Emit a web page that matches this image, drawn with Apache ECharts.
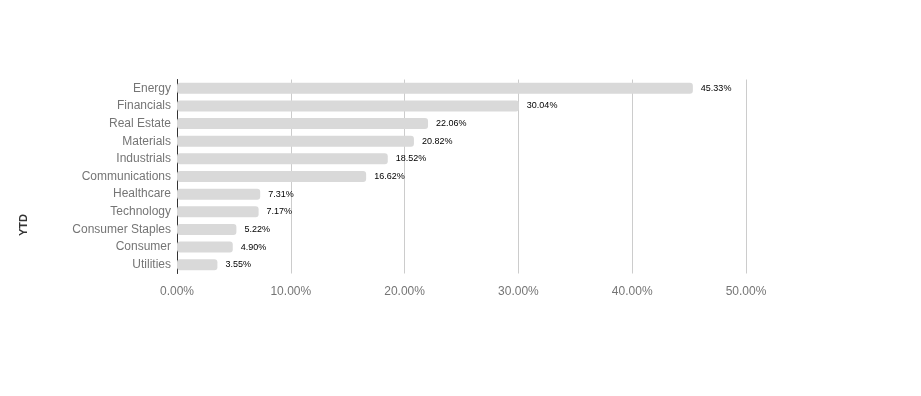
<!DOCTYPE html>
<html><head><meta charset="utf-8">
<script src="https://cdn.jsdelivr.net/npm/echarts@6/dist/echarts.min.js"></script>
<style>html,body{margin:0;padding:0;background:#fff}#c{width:921px;height:396px}</style>
</head><body><div id="c"></div>
<script>
const categories = ["Energy","Financials","Real Estate","Materials","Industrials","Communications","Healthcare","Technology","Consumer Staples","Consumer","Utilities"];
const values = [45.33,30.04,22.06,20.82,18.52,16.62,7.31,7.17,5.22,4.90,3.55];
const xTicks = [0,10,20,30,40,50];
const axisTitle = "YTD";

const chart = echarts.init(document.getElementById('c'), null, {renderer:'canvas'});
chart.setOption({
  animation:false,
  grid:{left:177, top:79.5, width:569, height:194, containLabel:false},
  xAxis:{
    type:'value', min:xTicks[0], max:xTicks[xTicks.length-1], interval:10,
    axisLine:{show:false}, axisTick:{show:false},
    splitLine:{lineStyle:{color:'#cccccc', width:1}},
    axisLabel:{color:'#757575', fontSize:12, fontFamily:'Liberation Sans, Arial', margin:12,
      formatter:v=>v.toFixed(2)+'%'}
  },
  yAxis:{
    type:'category', data:categories, inverse:true,
    axisLine:{show:true, lineStyle:{color:'#333333', width:1}},
    axisTick:{show:false},
    axisLabel:{color:'#757575', fontSize:12, fontFamily:'Liberation Sans, Arial', margin:6}
  },
  graphic:[{type:'text', left:18, top:214, rotation:Math.PI/2,
    style:{text:axisTitle, fill:'#333333', font:'bold 11px Liberation Sans, Arial'}}],
  series:[{
    type:'bar', data:values, barWidth:11,
    itemStyle:{color:'#d9d9d9', borderRadius:3},
    label:{show:true, position:'right', distance:8, color:'#000', fontSize:9,
      fontFamily:'Liberation Sans, Arial', formatter:p=>p.value.toFixed(2)+'%'}
  }]
});
</script></body></html>
